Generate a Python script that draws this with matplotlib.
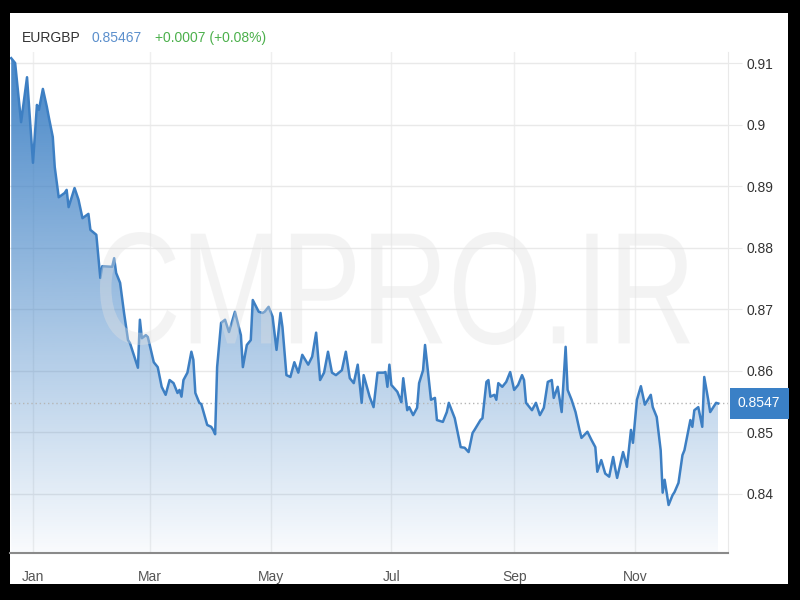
import numpy as np
import pandas as pd
import matplotlib
matplotlib.use('Agg')
import matplotlib.pyplot as plt
import matplotlib.dates as mdates
from matplotlib.patches import Rectangle, PathPatch
from matplotlib.textpath import TextPath
from matplotlib.font_manager import FontProperties
from matplotlib.transforms import Affine2D

# EURGBP daily close, days counted from 1 Jan
days = [-11, -9, -6, -3, 0, 2, 3, 5, 7, 8,
        10, 11, 13, 16, 17, 18, 21, 23, 25, 28,
        29, 32, 34, 35, 40, 41, 42, 44, 46, 48,
        49, 53, 54, 55, 57, 58, 61, 63, 65, 67,
        69, 71, 73, 74, 75, 76, 78, 80, 81, 82,
        84, 85, 88, 90, 91, 92, 93, 95, 97, 99,
        102, 105, 106, 108, 110, 111, 114, 116, 117, 119,
        121, 123, 125, 126, 128, 130, 132, 134, 136, 139,
        141, 143, 145, 147, 149, 151, 153, 156, 158, 160,
        162, 164, 166, 167, 170, 172, 174, 177, 178, 179,
        180, 181, 184, 185, 186, 187, 189, 190, 192, 194,
        195, 197, 198, 199, 201, 203, 204, 207, 209, 210,
        213, 216, 218, 220, 222, 223, 226, 227, 229, 230,
        231, 233, 234, 235, 237, 239, 241, 243, 245, 247,
        248, 249, 251, 252, 254, 256, 258, 260, 262, 263,
        265, 267, 269, 270, 272, 274, 276, 277, 280, 282,
        284, 285, 287, 289, 291, 293, 294, 295, 298, 300,
        302, 303, 305, 307, 309, 312, 313, 315, 317, 318,
        319, 321, 323, 324, 326, 328, 329, 332, 333, 334,
        336, 338, 339, 341, 342, 345, 346]
rates = [0.9108, 0.9100, 0.9004, 0.9077, 0.8938, 0.9032, 0.9024, 0.9058, 0.9029, 0.9012,
         0.8980, 0.8931, 0.8882, 0.8889, 0.8894, 0.8866, 0.8897, 0.8878, 0.8848, 0.8855,
         0.8829, 0.8821, 0.8751, 0.8770, 0.8769, 0.8783, 0.8759, 0.8743, 0.8694, 0.8650,
         0.8645, 0.8605, 0.8683, 0.8653, 0.8658, 0.8655, 0.8614, 0.8606, 0.8574, 0.8561,
         0.8585, 0.8580, 0.8564, 0.8569, 0.8558, 0.8585, 0.8597, 0.8631, 0.8618, 0.8564,
         0.8548, 0.8546, 0.8512, 0.8509, 0.8504, 0.8497, 0.8606, 0.8678, 0.8683, 0.8663,
         0.8696, 0.8658, 0.8606, 0.8642, 0.8650, 0.8715, 0.8696, 0.8694, 0.8696, 0.8704,
         0.8688, 0.8634, 0.8694, 0.8671, 0.8593, 0.8590, 0.8614, 0.8597, 0.8626, 0.8610,
         0.8623, 0.8662, 0.8585, 0.8597, 0.8631, 0.8597, 0.8593, 0.8601, 0.8631, 0.8588,
         0.8580, 0.8610, 0.8548, 0.8593, 0.8558, 0.8541, 0.8597, 0.8597, 0.8598, 0.8574,
         0.8610, 0.8577, 0.8566, 0.8558, 0.8549, 0.8588, 0.8536, 0.8541, 0.8528, 0.8540,
         0.8580, 0.8601, 0.8642, 0.8613, 0.8553, 0.8556, 0.8520, 0.8517, 0.8533, 0.8548,
         0.8523, 0.8476, 0.8475, 0.8468, 0.8499, 0.8504, 0.8520, 0.8523, 0.8582, 0.8585,
         0.8558, 0.8561, 0.8553, 0.8580, 0.8574, 0.8582, 0.8598, 0.8569, 0.8577, 0.8593,
         0.8585, 0.8548, 0.8540, 0.8536, 0.8548, 0.8528, 0.8540, 0.8582, 0.8585, 0.8556,
         0.8574, 0.8533, 0.8639, 0.8569, 0.8553, 0.8533, 0.8504, 0.8491, 0.8501, 0.8488,
         0.8476, 0.8436, 0.8455, 0.8433, 0.8428, 0.8460, 0.8442, 0.8426, 0.8468, 0.8444,
         0.8504, 0.8483, 0.8553, 0.8575, 0.8545, 0.8561, 0.8541, 0.8525, 0.8471, 0.8402,
         0.8423, 0.8382, 0.8398, 0.8403, 0.8418, 0.8463, 0.8471, 0.8520, 0.8509, 0.8536,
         0.8541, 0.8509, 0.8590, 0.8553, 0.8533, 0.8548, 0.8547]

month_ticks = ['2017-01-01', '2017-03-01', '2017-05-01', '2017-07-01', '2017-09-01', '2017-11-01']
month_labels = ['Jan', 'Mar', 'May', 'Jul', 'Sep', 'Nov']
y_ticks = [0.84, 0.85, 0.86, 0.87, 0.88, 0.89, 0.90, 0.91]
y_labels = ['0.84', '0.85', '0.86', '0.87', '0.88', '0.89', '0.9', '0.91']
last_price = 0.8547

plt.rcParams['font.family'] = ['Liberation Sans', 'DejaVu Sans']

dates = pd.Timestamp('2017-01-01') + pd.to_timedelta(days, unit='D')
x = mdates.date2num(dates)
x_lo = mdates.date2num(pd.Timestamp('2017-01-01') - pd.Timedelta(days=11.6))
x_hi = mdates.date2num(pd.Timestamp('2017-01-01') + pd.Timedelta(days=351))
y_lo, y_hi = 0.8304, 0.9118

fig = plt.figure(figsize=(8, 6), dpi=100, facecolor='black')
# white card inside the black frame
fig.add_artist(Rectangle((10 / 800, 16 / 600), 778 / 800, 571 / 600, transform=fig.transFigure,
                         facecolor='white', edgecolor='none', zorder=-1))

ax = fig.add_axes([10 / 800, 47 / 600, 718 / 800, 501 / 600])
ax.set_facecolor('white')

# gradient area under the line
blue = matplotlib.colors.to_rgb('#3b7fc4')
grad = np.zeros((256, 1, 4))
grad[:, 0, :3] = blue
grad[:, 0, 3] = np.linspace(0.03, 0.95, 256)
im = ax.imshow(grad, extent=[x[0], x[-1], y_lo, y_hi], origin='lower', aspect='auto', zorder=1)
area = ax.fill_between(x, rates, y_lo, facecolor='none', edgecolor='none')
im.set_clip_path(area.get_paths()[0], transform=ax.transData)

ax.plot(x, rates, color='#3d7fc3', lw=1.8, zorder=3, solid_joinstyle='round')
ax.axhline(last_price, color='#b5b5b5', ls=(0, (1, 2)), lw=1, zorder=2)

ax.set_xlim(x_lo, x_hi)
ax.set_ylim(y_lo, y_hi)
ax.set_xticks(mdates.date2num(pd.to_datetime(month_ticks)))
ax.set_xticklabels(month_labels)
ax.set_yticks(y_ticks)
ax.set_yticklabels(y_labels)
ax.yaxis.tick_right()
ax.grid(axis='y', color='#e9e9e9', lw=1, zorder=0)
ax.grid(axis='x', color='#efefef', lw=1, zorder=0)
ax.set_axisbelow(True)
ax.tick_params(axis='y', length=10, color='#e9e9e9', pad=3, labelsize=10, labelcolor='#333333')
ax.tick_params(axis='x', length=0, pad=12, labelsize=10, labelcolor='#555555')
for side in ['top', 'left']:
    ax.spines[side].set_visible(False)
ax.spines['right'].set_color('#e9e9e9')
ax.spines['bottom'].set_color('#8a8a8a')
ax.spines['bottom'].set_linewidth(1.5)

# current price tag
ax.text(1.0139, last_price, '0.8547', transform=ax.get_yaxis_transform(), color='white',
        fontsize=10, ha='left', va='center',
        bbox=dict(boxstyle='square,pad=0.6', fc='#3a80c6', ec='none'), clip_on=False, zorder=6)

# header
fig.text(22 / 800, 0.937, 'EURGBP', color='#333333', fontsize=10, va='center')
fig.text(92 / 800, 0.937, '0.85467', color='#5b8fcc', fontsize=10, va='center')
fig.text(155 / 800, 0.937, '+0.0007 (+0.08%)', color='#4cb04c', fontsize=10, va='center')

# watermark
tp = TextPath((0, 0), 'CMPRO.IR', size=1, prop=FontProperties(family='Liberation Sans'))
bb = tp.get_extents()
tr = (Affine2D().translate(-bb.x0, -bb.y0)
      .scale(590 / 800 / bb.width, 113 / 600 / bb.height)
      .translate(100 / 800, 255 / 600))
fig.add_artist(PathPatch(tr.transform_path(tp), transform=fig.transFigure,
                         facecolor='#e2e2e2', edgecolor='none', alpha=0.38, zorder=5))

fig.savefig('out.png', dpi=100, facecolor='black')
